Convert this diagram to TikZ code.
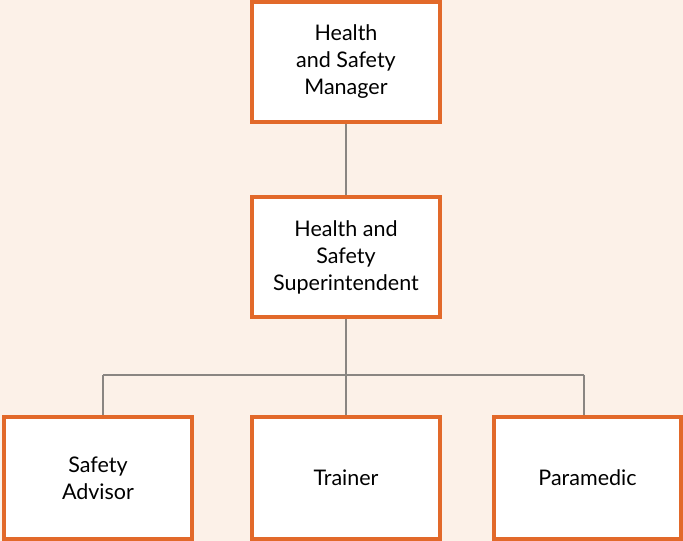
\documentclass[tikz,border=0pt]{standalone}
\usepackage{fontspec}
\setmainfont{Lato}
\definecolor{bgc}{HTML}{FCF1E8}
\definecolor{boxc}{HTML}{E2692A}
\definecolor{linec}{HTML}{8A8682}
\begin{document}
\begin{tikzpicture}[x=1pt,y=1pt,
  orgbox/.style={draw=boxc, line width=4pt, fill=white, minimum width=188pt, minimum height=120pt, inner sep=0pt, align=center, font=\fontsize{21.5}{27}\selectfont},
  conn/.style={draw=linec, line width=2.3pt}]
\fill[bgc] (0,0) rectangle (683,541);
\useasboundingbox (0,0) rectangle (683,541);
\node[orgbox] (mgr) at (346,479) {Health\\and Safety\\Manager};
\node[orgbox] (sup) at (346,284) {Health and\\Safety\\Superintendent};
\node[orgbox, minimum height=122pt] (adv) at (98,63) {Safety\\Advisor};
\node[orgbox, minimum height=122pt] (trn) at (346,63) {Trainer};
\node[orgbox, minimum height=122pt, minimum width=187pt] (par) at (587.5,63) {Paramedic};
\coordinate (bus) at (346,166);
\coordinate (busl) at (103,166);
\coordinate (busr) at (584,166);
\draw[conn] (mgr.south) -- (sup.north);
\draw[conn] (sup.south) -- (bus);
\draw[conn] (busl) -- (busr);
\draw[conn] (busl) -- (busl |- adv.north);
\draw[conn] (bus) -- (trn.north);
\draw[conn] (busr) -- (busr |- par.north);
\end{tikzpicture}
\end{document}
